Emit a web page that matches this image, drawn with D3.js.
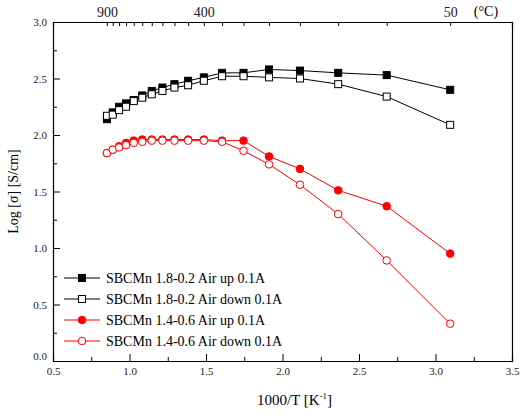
<!DOCTYPE html>
<html>
<head>
<meta charset="utf-8">
<script src="https://cdn.jsdelivr.net/npm/d3@7"></script>
<style>
  body { margin: 0; background: #fff; }
  text { font-family: "Liberation Serif", "Times New Roman", serif; }
</style>
</head>
<body>
<div id="chart"></div>
<script>
// DATA

const temps = [900, 850, 800, 750, 700, 650, 600, 550, 500, 450, 400, 350, 300, 250, 200, 150, 100, 50];
const blackUp   = [2.14, 2.20, 2.25, 2.28, 2.31, 2.35, 2.39, 2.42, 2.45, 2.48, 2.51, 2.55, 2.55, 2.58, 2.57, 2.55, 2.53, 2.40];
const blackDown = [2.17, 2.18, 2.22, 2.25, 2.30, 2.33, 2.36, 2.39, 2.42, 2.44, 2.48, 2.52, 2.52, 2.51, 2.50, 2.45, 2.34, 2.09];
const redUp     = [1.84, 1.87, 1.90, 1.93, 1.95, 1.96, 1.96, 1.96, 1.96, 1.96, 1.96, 1.95, 1.95, 1.81, 1.70, 1.51, 1.37, 0.95];
const redDown   = [1.84, 1.87, 1.89, 1.91, 1.93, 1.94, 1.95, 1.95, 1.95, 1.95, 1.95, 1.94, 1.86, 1.74, 1.56, 1.30, 0.89, 0.33];
const topLabels = [900, 400, 50];

const series = [
    {name: "SBCMn 1.8-0.2 Air up 0.1A",   values: blackUp,   color: "#000", shape: "square", filled: true},
    {name: "SBCMn 1.8-0.2 Air down 0.1A", values: blackDown, color: "#000", shape: "square", filled: false},
    {name: "SBCMn 1.4-0.6 Air up 0.1A",   values: redUp,     color: "#f00", shape: "circle", filled: true},
    {name: "SBCMn 1.4-0.6 Air down 0.1A", values: redDown,   color: "#f00", shape: "circle", filled: false}
];

// SVG CANVAS

const width = 526, height = 415;
const margin = {top: 22, left: 53, right: 14, bottom: 54};

const svg = d3.select("#chart").append("svg")
    .attr("width", width)
    .attr("height", height);

const xScale = d3.scaleLinear().domain([0.5, 3.5]).range([margin.left, width - margin.right]);
const yScale = d3.scaleLinear().domain([0, 3]).range([height - margin.bottom, margin.top]);
const invT = t => 1000 / (t + 273);
const isMajor = d => Math.round(d * 100) % 50 === 0;

// AXES (ticks inward)

const xMinor = d3.range(0.5, 3.51, 0.25);
const yMinor = d3.range(0, 3.01, 0.25);

svg.append("g")
    .attr("transform", `translate(0,${height - margin.bottom})`)
    .call(d3.axisBottom(xScale).tickValues(xMinor).tickSize(-4).tickPadding(6)
        .tickFormat(d => isMajor(d) ? d3.format(".1f")(d) : ""))
    .call(g => g.selectAll(".tick line").attr("y2", d => isMajor(d) ? -7 : -4));

svg.append("g")
    .attr("transform", `translate(${margin.left},0)`)
    .call(d3.axisLeft(yScale).tickValues(yMinor).tickSize(-4).tickPadding(6)
        .tickFormat(d => isMajor(d) ? d3.format(".1f")(d) : ""))
    .call(g => g.selectAll(".tick line").attr("x2", d => isMajor(d) ? 7 : 4))
    .call(g => g.selectAll(".tick text").attr("dy", d => d === 0 ? "-0.1em" : "0.32em"));

svg.append("g")
    .attr("class", "topAxis")
    .attr("transform", `translate(0,${margin.top})`)
    .call(d3.axisTop(xScale).tickValues(temps.map(invT)).tickSize(-4).tickPadding(5)
        .tickFormat((d, i) => topLabels.includes(temps[i]) ? temps[i] : ""));

svg.append("g")
    .attr("transform", `translate(${width - margin.right},0)`)
    .call(d3.axisRight(yScale).tickValues([]).tickSizeOuter(0));

svg.selectAll(".domain").attr("stroke", "#000").attr("stroke-width", 1.2);
svg.selectAll(".tick text").attr("font-size", 11).attr("fill", "#222")
    .style("font-family", "Liberation Serif, serif");
svg.selectAll(".tick line").attr("stroke", "#000");
svg.select(".topAxis").selectAll(".tick text").attr("font-size", 14);

svg.append("text")
    .attr("x", xScale(3.33)).attr("y", 16)
    .attr("font-size", 14).attr("text-anchor", "middle")
    .text("(°C)");

// AXIS LABELS

const xl = svg.append("text")
    .attr("x", (margin.left + width - margin.right) / 2 + 12)
    .attr("y", 405)
    .attr("font-size", 15).attr("text-anchor", "middle");
xl.append("tspan").text("1000/T [K");
xl.append("tspan").attr("font-size", 9).attr("dy", -6).text("-1");
xl.append("tspan").attr("dy", 6).text("]");

svg.append("text")
    .attr("transform", "rotate(-90)")
    .attr("x", -(margin.top + height - margin.bottom) / 2)
    .attr("y", 18)
    .attr("font-size", 14).attr("text-anchor", "middle")
    .text("Log [σ] [S/cm]");

// LINES + MARKERS

const line = d3.line()
    .x((d, i) => xScale(invT(temps[i])))
    .y(d => yScale(d));

function marker(g, s, x, y) {
    if (s.shape === "square") {
        g.append("rect").attr("x", x - 3.5).attr("y", y - 3.5).attr("width", 7).attr("height", 7)
            .attr("fill", s.filled ? s.color : "#fff").attr("stroke", s.color).attr("stroke-width", 1);
    } else {
        g.append("circle").attr("cx", x).attr("cy", y).attr("r", 3.8)
            .attr("fill", s.filled ? s.color : "#fff").attr("stroke", s.color).attr("stroke-width", 1);
    }
}

series.forEach(s => {
    svg.append("path").datum(s.values)
        .attr("d", line).attr("fill", "none")
        .attr("stroke", s.color).attr("stroke-width", 1);
    const g = svg.append("g");
    s.values.forEach((v, i) => marker(g, s, xScale(invT(temps[i])), yScale(v)));
});

// LEGEND

const legend = svg.append("g");
series.forEach((s, i) => {
    const y = 278 + i * 21;
    legend.append("line").attr("x1", 64).attr("x2", 100).attr("y1", y).attr("y2", y)
        .attr("stroke", s.color).attr("stroke-width", 1);
    marker(legend, s, 82, y);
    legend.append("text").attr("x", 106).attr("y", y + 5)
        .attr("font-size", 14).text(s.name);
});
</script>
</body>
</html>
